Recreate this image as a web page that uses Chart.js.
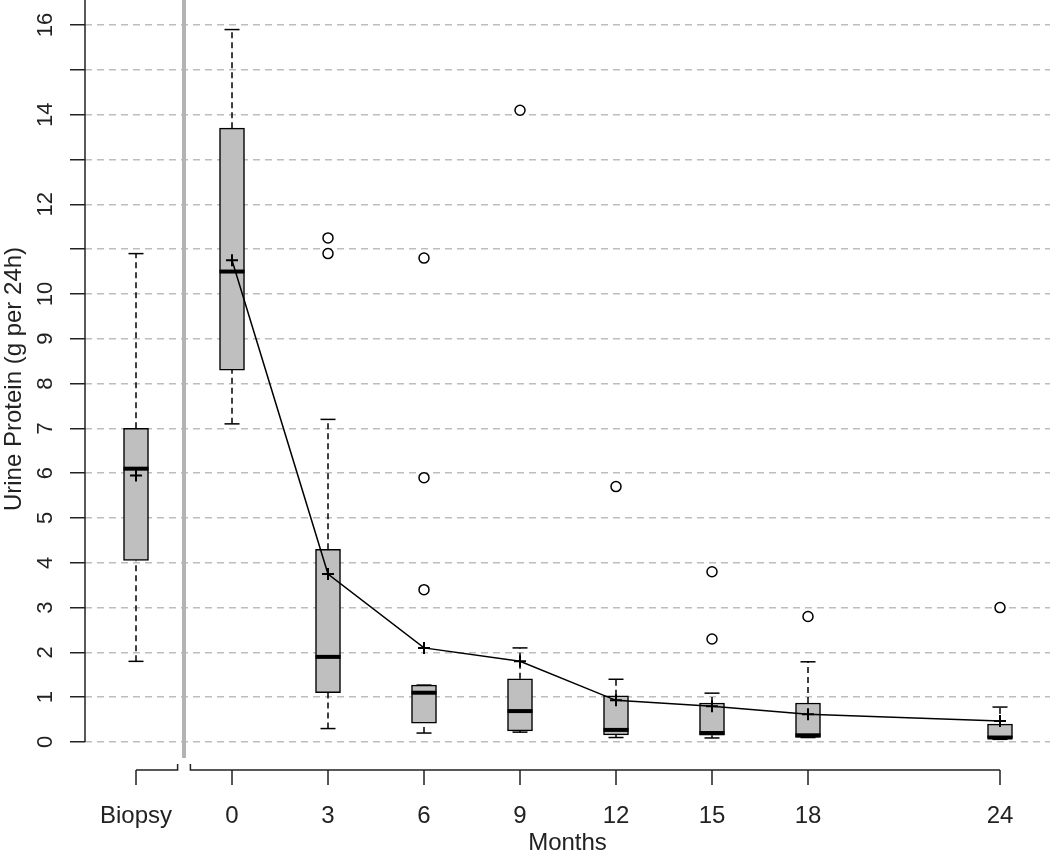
<!DOCTYPE html>
<html>
<head>
<meta charset="utf-8">
<script src="https://cdn.jsdelivr.net/npm/chart.js@4.4.1/dist/chart.umd.min.js"></script>
<style>
  body { margin: 0; background: #fff; }
  #wrap { width: 1050px; height: 853px; }
</style>
</head>
<body>
<div id="wrap"><canvas id="myChart"></canvas></div>
<script>
// x position of each group in months (Biopsy is placed at -3)
var xPos = [-3, 0, 3, 6, 9, 12, 15, 18, 24]
var xLabels = ['Biopsy', '0', '3', '6', '9', '12', '15', '18', '24']

var whiskerLow  = [1.8, 7.1, 0.3, 0.2, 0.22, 0.1, 0.09, 0.1, 0.06]
var q1          = [4.05, 8.3, 1.1, 0.42, 0.25, 0.16, 0.15, 0.1, 0.08]
var median      = [6.1, 10.5, 1.9, 1.1, 0.69, 0.27, 0.2, 0.15, 0.1]
var q3          = [7.0, 13.7, 4.3, 1.27, 1.41, 1.03, 0.87, 0.87, 0.4]
var whiskerHigh = [10.9, 15.9, 7.2, 1.27, 2.1, 1.4, 1.09, 1.79, 0.78]
var means       = [5.95, 10.75, 3.75, 2.1, 1.8, 0.93, 0.8, 0.62, 0.47]
var outliers    = [[], [], [11.25, 10.9], [10.8, 5.9, 3.4], [14.1], [5.7], [3.8, 2.3], [2.8], [3.0]]

var yTicks = [0, 1, 2, 3, 4, 5, 6, 7, 8, 9, 10, 11, 12, 13, 14, 15, 16]
var yLabelled = [0, 1, 2, 3, 4, 5, 6, 7, 8, 9, 10, 12, 14, 16]

var breakAt = -1.5
var font = 'Liberation Sans, Arial, sans-serif'

// build the point lists from the arrays above
var boxData = [], whiskers = [], caps = [], medians = [], meanPts = [], outPts = []
for (var i = 0; i < xPos.length; i++) {
  var x = xPos[i]
  boxData.push({x: x, y: [q1[i], q3[i]]})
  whiskers.push({x: x, y: whiskerLow[i]}, {x: x, y: q1[i]}, {x: x, y: null})
  whiskers.push({x: x, y: q3[i]}, {x: x, y: whiskerHigh[i]}, {x: x, y: null})
  caps.push({x: x, y: whiskerLow[i]}, {x: x, y: whiskerHigh[i]})
  medians.push({x: x, y: median[i]})
  meanPts.push({x: x, y: means[i]})
  for (var j = 0; j < outliers[i].length; j++) outPts.push({x: x, y: outliers[i][j]})
}

var decor = {
  id: 'decor',
  beforeDatasetsDraw(chart) {
    var sx = chart.scales.x, a = chart.chartArea, c = chart.ctx
    var px = sx.getPixelForValue(breakAt)
    c.save()
    c.strokeStyle = '#b3b3b3'
    c.lineWidth = 4
    c.beginPath(); c.moveTo(px, a.top); c.lineTo(px, a.bottom); c.stroke()
    c.restore()
  },
  afterDraw(chart) {
    var sx = chart.scales.x, sy = chart.scales.y, a = chart.chartArea, c = chart.ctx
    c.save()
    c.strokeStyle = '#222'
    c.lineWidth = 1.5
    c.beginPath()
    c.moveTo(a.left, sy.getPixelForValue(0)); c.lineTo(a.left, a.top)
    var ay = a.bottom + 12
    var gl = sx.getPixelForValue(breakAt - 0.2), gr = sx.getPixelForValue(breakAt + 0.2)
    c.moveTo(sx.getPixelForValue(xPos[0]), ay); c.lineTo(gl, ay); c.lineTo(gl, ay - 6)
    c.moveTo(gr, ay - 6); c.lineTo(gr, ay); c.lineTo(sx.getPixelForValue(xPos[xPos.length - 1]), ay)
    xPos.forEach(function (v) {
      var p = sx.getPixelForValue(v)
      c.moveTo(p, ay); c.lineTo(p, ay + 15)
    })
    c.stroke()
    c.restore()
  }
}

function noPad(s) {
  s.paddingTop = 0; s.paddingBottom = 0; s.paddingLeft = 0; s.paddingRight = 0
}

new Chart('myChart', {
  type: 'bar',
  data: {
    datasets: [
      {
        type: 'line', data: whiskers, order: 6,
        borderColor: '#000', borderWidth: 1.5, borderDash: [6, 4],
        pointRadius: 0, spanGaps: false
      },
      {
        type: 'bar', data: boxData, order: 5,
        backgroundColor: '#bfbfbf', borderColor: '#000', borderWidth: 1.5,
        borderSkipped: false, barThickness: 25, grouped: false
      },
      {
        type: 'line', data: caps, order: 4, showLine: false,
        pointStyle: 'line', pointRadius: 7.5, pointBorderWidth: 1.5, pointBorderColor: '#000'
      },
      {
        type: 'line', data: medians, order: 4, showLine: false,
        pointStyle: 'line', pointRadius: 12.5, pointBorderWidth: 4, pointBorderColor: '#000'
      },
      {
        type: 'line', data: outPts, order: 3, showLine: false,
        pointStyle: 'circle', pointRadius: 5, pointBorderWidth: 1.5,
        pointBorderColor: '#000', pointBackgroundColor: '#fff'
      },
      {
        type: 'line', data: meanPts, order: 1,
        borderColor: '#000', borderWidth: 1.5, tension: 0,
        pointStyle: 'cross', pointRadius: 6, pointBorderWidth: 2, pointBorderColor: '#000',
        segment: {
          borderColor: function (ctx) { return ctx.p0DataIndex === 0 ? 'rgba(0,0,0,0)' : undefined }
        }
      }
    ]
  },
  options: {
    responsive: true,
    maintainAspectRatio: false,
    animation: false,
    events: [],
    layout: { padding: 0, autoPadding: false },
    plugins: { legend: { display: false }, tooltip: { enabled: false } },
    scales: {
      x: {
        type: 'linear', min: -4.594, max: 25.5625, offset: false,
        afterBuildTicks: function (s) { s.ticks = xPos.map(function (v) { return {value: v} }) },
        ticks: {
          autoSkip: false, maxRotation: 0, minRotation: 0, padding: 36, color: '#222',
          font: { family: font, size: 24 },
          callback: function (v) { var k = xPos.indexOf(v); return k < 0 ? '' : xLabels[k] }
        },
        grid: { display: false, offset: false },
        border: { display: false },
        title: { display: true, text: 'Months', color: '#222', font: { family: font, size: 24, lineHeight: 0.8 }, padding: 0 },
        afterFit: function (s) { s.height = 95; noPad(s) }
      },
      y: {
        min: -0.357, max: 16.56,
        afterBuildTicks: function (s) { s.ticks = yTicks.map(function (v) { return {value: v} }) },
        ticks: {
          autoSkip: false, minRotation: 90, maxRotation: 90, crossAlign: 'center', padding: 12,
          color: '#222', font: { family: font, size: 22 },
          callback: function (v) { return yLabelled.indexOf(v) < 0 ? '' : String(v) }
        },
        grid: { color: '#bdbdbd', lineWidth: 1.5, tickColor: '#222', tickLength: 15, tickWidth: 1.5 },
        border: { display: false, dash: [7, 5] },
        title: { display: true, text: 'Urine Protein (g per 24h)', color: '#222', font: { family: font, size: 24 }, padding: 0 },
        afterFit: function (s) { s.width = 85; noPad(s) }
      }
    }
  },
  plugins: [decor]
})
</script>
</body>
</html>
